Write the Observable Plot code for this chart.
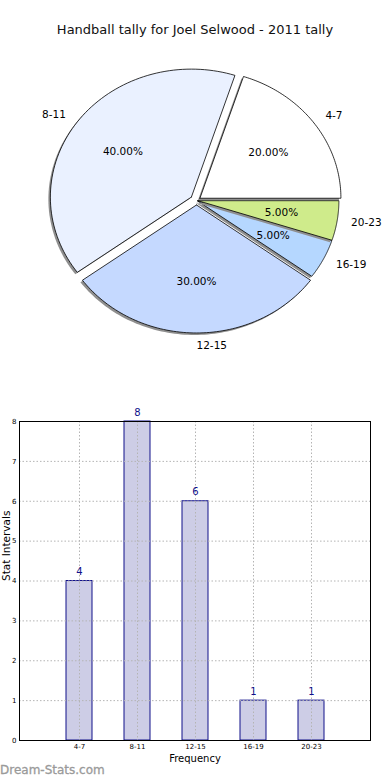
<!DOCTYPE html>
<html><head><meta charset="utf-8">
<script src="https://cdn.jsdelivr.net/npm/d3@7"></script>
<script src="https://cdn.jsdelivr.net/npm/@observablehq/plot@0.6"></script>
<style>
body{margin:0;background:#fff;font-family:"DejaVu Sans",sans-serif;}
#wrap{position:relative;width:390px;height:780px;overflow:hidden;background:#fff;}
#title{position:absolute;left:0;top:22px;width:390px;text-align:center;font-size:13px;color:#111;line-height:16px;}
#pie{position:absolute;left:0;top:45px;}
#bar{position:absolute;left:0;top:360px;}
#wm{position:absolute;left:0;top:762px;font-size:12px;color:#9a9a9a;line-height:16px;-webkit-text-stroke:0.3px #9a9a9a;}
svg{font-family:"DejaVu Sans",sans-serif;}
</style></head><body>
<div id="wrap">
<div id="title">Handball tally for Joel Selwood - 2011 tally</div>
<div id="pie"></div>
<div id="bar"></div>
<div id="wm">Dream-Stats.com</div>
</div>
<script>
// ---- data ----
const categories = ["4-7", "8-11", "12-15", "16-19", "20-23"];
const counts = [4, 8, 6, 1, 1];
const yTicks = [0, 1, 2, 3, 4, 5, 6, 7, 8];

// ---- styles ----
const sliceColors = ["#ffffff", "#eaf1ff", "#c5d9ff", "#b5d7ff", "#cfeb8b"];
const explode = [0.03, 0.045, 0.035, 0.01, 0.01];

// ---- pie ----
const W = 390, H = 315, RX = 141, RY = 128, CX = 196, CY = 155;
const total = d3.sum(counts);
let acc = 0;
const slices = counts.map((c, i) => {
  const a0 = acc / total * 2 * Math.PI;
  acc += c;
  const a1 = acc / total * 2 * Math.PI;
  const mid = (a0 + a1) / 2;
  const ox = explode[i] * Math.cos(mid), oy = explode[i] * Math.sin(mid);
  const pts = [{u: ox, v: oy}];
  const n = 80;
  for (let k = 0; k <= n; k++) {
    const a = a0 + (a1 - a0) * k / n;
    pts.push({u: ox + Math.cos(a), v: oy + Math.sin(a)});
  }
  pts.push({u: ox, v: oy});
  return {i, cat: categories[i], count: c, a0, a1, mid, ox, oy, pts,
    pct: (c / total * 100).toFixed(2) + "%",
    lu: ox + 1.1 * Math.cos(mid), lv: oy + 1.1 * Math.sin(mid),
    pu: ox + 0.6 * Math.cos(mid), pv: oy + 0.6 * Math.sin(mid)};
});

const pieMarks = [];
slices.forEach(s => {
  pieMarks.push(Plot.line(s.pts, {x: "u", y: "v", fill: "#8f8f8f", stroke: "none", dx: -2, dy: 2, curve: "linear"}));
  pieMarks.push(Plot.line(s.pts, {x: "u", y: "v", fill: sliceColors[s.i], stroke: "#000", strokeWidth: 0.8, strokeLinejoin: "miter", curve: "linear"}));
});
const rightLabels = slices.filter(s => Math.cos(s.mid) > -0.01);
const leftLabels = slices.filter(s => Math.cos(s.mid) <= -0.01);
pieMarks.push(Plot.text(rightLabels, {x: "lu", y: "lv", text: "cat", textAnchor: "start", fontSize: 10.5, fill: "#000"}));
pieMarks.push(Plot.text(leftLabels, {x: "lu", y: "lv", text: "cat", textAnchor: "end", fontSize: 10.5, fill: "#000"}));
pieMarks.push(Plot.text(slices, {x: "pu", y: "pv", text: "pct", textAnchor: "middle", fontSize: 10.5, fill: "#000"}));

const pie = Plot.plot({
  width: W, height: H,
  marginTop: 0, marginBottom: 0, marginLeft: 0, marginRight: 0,
  x: {domain: [-CX / RX, (W - CX) / RX], axis: null},
  y: {domain: [-(H - CY) / RY, CY / RY], axis: null},
  style: {background: "transparent", overflow: "visible"},
  marks: pieMarks
});
document.getElementById("pie").appendChild(pie);

// ---- bar chart ----
const rows = categories.map((c, i) => ({cat: c, count: counts[i]}));
const bar = Plot.plot({
  width: 390, height: 420,
  marginTop: 61, marginBottom: 40, marginLeft: 19, marginRight: 20,
  style: {fontSize: "7px", background: "transparent", overflow: "visible", color: "#000"},
  x: {domain: categories, paddingInner: 0.56, paddingOuter: 0.78, label: null, tickSize: 0, tickPadding: 4},
  y: {domain: [0, 8], ticks: yTicks, tickFormat: d => d, label: null, tickSize: 0, tickPadding: 3},
  marks: [
    Plot.barY(rows, {x: "cat", y: "count", fill: "#cdcde6", stroke: "#10108a", strokeWidth: 1}),
    Plot.ruleY(yTicks.slice(1, -1), {stroke: "#b4b4b4", strokeDasharray: "1.5,2", strokeWidth: 1}),
    Plot.ruleX(categories, {x: d => d, stroke: "#b4b4b4", strokeDasharray: "1.5,2", strokeWidth: 1}),
    Plot.frame({stroke: "#000", strokeWidth: 1}),
    Plot.text(rows, {x: "cat", y: "count", text: "count", dy: -9, fill: "#10108a", fontSize: 10}),
    Plot.text(["Frequency"], {frameAnchor: "bottom", text: d => d, dy: 21.5, fontSize: 10, fill: "#000"}),
    Plot.text(["Stat Intervals"], {frameAnchor: "left", text: d => d, rotate: -90, dx: -13, fontSize: 10.5, fill: "#000"})
  ]
});
document.getElementById("bar").appendChild(bar);
</script>
</body></html>
